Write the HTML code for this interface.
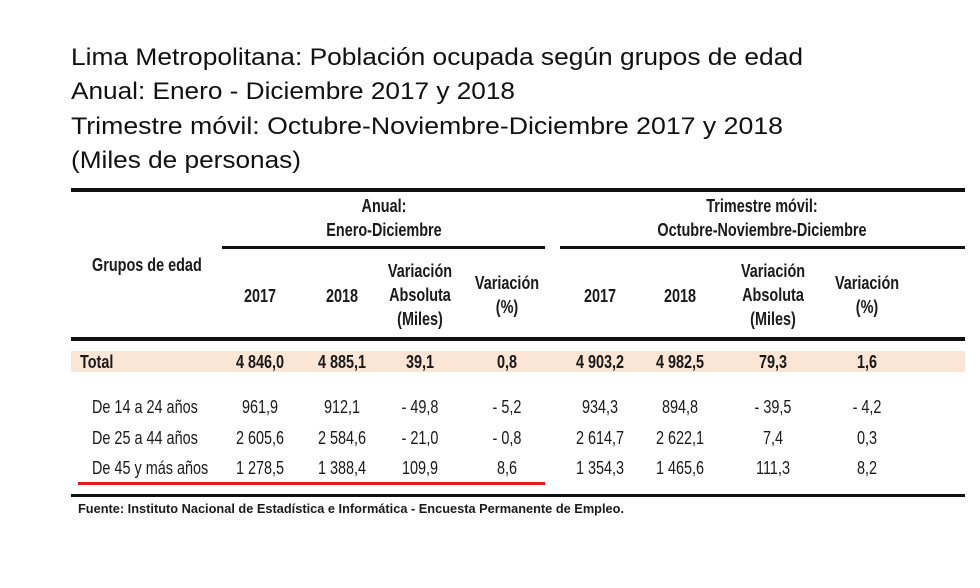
<!DOCTYPE html>
<html><head><meta charset="utf-8"><style>
html,body{margin:0;padding:0;background:#fff;}
svg{display:block;}
.t{font-family:"Liberation Sans",sans-serif;font-size:24px;fill:#111;}
.n{font-family:"Liberation Sans Narrow","Liberation Sans",sans-serif;font-size:18.5px;fill:#1a1a1a;}
.b{font-weight:bold;}
</style></head><body>
<svg id="fig" width="980" height="588" viewBox="0 0 980 588">
<g>
<text class="t" x="71" y="65" textLength="732" lengthAdjust="spacingAndGlyphs">Lima Metropolitana: Población ocupada según grupos de edad</text>
<text class="t" x="71" y="99" textLength="444" lengthAdjust="spacingAndGlyphs">Anual: Enero - Diciembre 2017 y 2018</text>
<text class="t" x="71" y="134" textLength="712" lengthAdjust="spacingAndGlyphs">Trimestre móvil: Octubre-Noviembre-Diciembre 2017 y 2018</text>
<text class="t" x="71" y="168" textLength="230" lengthAdjust="spacingAndGlyphs">(Miles de personas)</text>
</g>
<rect x="71" y="188" width="894" height="4" fill="#111"/>
<rect x="222" y="246" width="323" height="3" fill="#111"/>
<rect x="560" y="246" width="405" height="3" fill="#111"/>
<rect x="71" y="337" width="894" height="4" fill="#111"/>
<rect x="71" y="351" width="894" height="21" fill="#fbe6d6"/>
<rect x="78" y="482" width="467" height="3" fill="#e01a1a"/>
<rect x="71" y="494" width="894" height="3" fill="#111"/>
<g class="n b sq" text-anchor="middle">
<text x="384" y="212">Anual:</text>
<text x="384" y="236">Enero-Diciembre</text>
<text x="762" y="212">Trimestre móvil:</text>
<text x="762" y="236">Octubre-Noviembre-Diciembre</text>
<text x="92" y="271" text-anchor="start">Grupos de edad</text>
<text x="260" y="302">2017</text><text x="342" y="302">2018</text>
<text x="420" y="277">Variación</text><text x="420" y="301">Absoluta</text><text x="420" y="325">(Miles)</text>
<text x="507" y="289">Variación</text><text x="507" y="313">(%)</text>
<text x="600" y="302">2017</text><text x="680" y="302">2018</text>
<text x="773" y="277">Variación</text><text x="773" y="301">Absoluta</text><text x="773" y="325">(Miles)</text>
<text x="867" y="289">Variación</text><text x="867" y="313">(%)</text>
</g>
<g class="n sq" text-anchor="middle">
<g class="b">
<text x="80" y="368" text-anchor="start">Total</text>
<text x="260" y="368">4 846,0</text><text x="342" y="368">4 885,1</text><text x="420" y="368">39,1</text><text x="507" y="368">0,8</text>
<text x="600" y="368">4 903,2</text><text x="680" y="368">4 982,5</text><text x="773" y="368">79,3</text><text x="867" y="368">1,6</text>
</g>
<g>
<text x="92" y="413" text-anchor="start">De 14 a 24 años</text>
<text x="260" y="413">961,9</text><text x="342" y="413">912,1</text><text x="420" y="413">- 49,8</text><text x="507" y="413">- 5,2</text>
<text x="600" y="413">934,3</text><text x="680" y="413">894,8</text><text x="773" y="413">- 39,5</text><text x="867" y="413">- 4,2</text>
</g>
<g>
<text x="92" y="444" text-anchor="start">De 25 a 44 años</text>
<text x="260" y="444">2 605,6</text><text x="342" y="444">2 584,6</text><text x="420" y="444">- 21,0</text><text x="507" y="444">- 0,8</text>
<text x="600" y="444">2 614,7</text><text x="680" y="444">2 622,1</text><text x="773" y="444">7,4</text><text x="867" y="444">0,3</text>
</g>
<g>
<text x="92" y="474" text-anchor="start">De 45 y más años</text>
<text x="260" y="474">1 278,5</text><text x="342" y="474">1 388,4</text><text x="420" y="474">109,9</text><text x="507" y="474">8,6</text>
<text x="600" y="474">1 354,3</text><text x="680" y="474">1 465,6</text><text x="773" y="474">111,3</text><text x="867" y="474">8,2</text>
</g>
</g>
<text class="n b" x="78" y="513" style="font-size:13px" textLength="546" lengthAdjust="spacingAndGlyphs">Fuente: Instituto Nacional de Estadística e Informática  - Encuesta Permanente de Empleo.</text>
</svg>
<script>
document.querySelectorAll('#fig .sq text').forEach(function(t){
  var x=parseFloat(t.getAttribute('x'));
  t.setAttribute('transform','translate('+x+',0) scale(0.78,1) translate('+(-x)+',0)');
});
</script>
</body></html>
